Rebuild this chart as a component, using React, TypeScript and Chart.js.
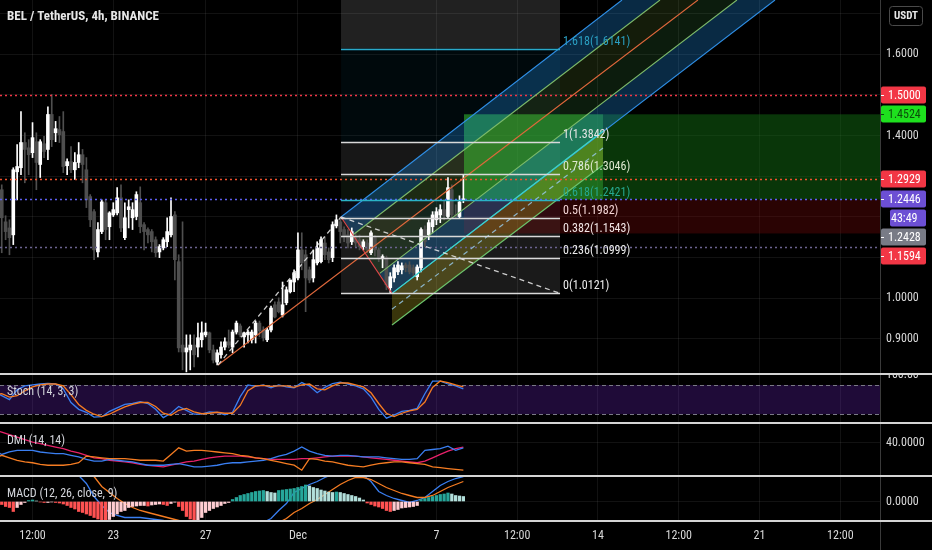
import { useEffect, useRef } from 'react';
import { Chart, registerables } from 'chart.js';

Chart.register(...registerables);

const FONT = '"Liberation Sans Narrow", "Arial Narrow", "Roboto Condensed", "DejaVu Sans Condensed", "Liberation Sans", sans-serif';

const TITLE = 'BEL / TetherUS, 4h, BINANCE';
const PANE_TITLES = ['Stoch (14, 3, 3)', 'DMI (14, 14)', 'MACD (12, 26, close, 9)'];

// time axis: days counted from Nov 0 (Dec 1 = 31)
const FIRST_CANDLE_DAY = 17 + 20 / 24;
const CANDLE_DAYS = 4 / 24;
const X_MIN = 18.091;
const X_MAX = 56.219;
const TIME_TICKS = [19.5, 23, 27, 31, 37, 40.5, 44, 47.5, 51, 54.5];
const TIME_LABELS = ['12:00', '23', '27', 'Dec', '7', '12:00', '14', '12:00', '21', '12:00'];

const PRICE_MIN = 0.8138;
const PRICE_MAX = 1.7335;
const PRICE_GRID = [0.9, 1.0, 1.1, 1.2, 1.3, 1.4, 1.5, 1.6, 1.7];
const PRICE_LABELED = [0.9, 1.0, 1.4, 1.6];

const OPEN = [1.250,1.205,1.267,1.188,1.173,1.156,1.311,1.321,1.383,1.370,
1.358,1.385,1.329,1.380,1.366,1.452,1.407,1.415,1.410,1.326,
1.336,1.316,1.334,1.353,1.316,1.250,1.213,1.114,1.164,1.235,
1.176,1.205,1.210,1.247,1.149,1.218,1.198,1.201,1.235,1.181,
1.169,1.164,1.144,1.114,1.124,1.139,1.156,1.205,1.090,0.885,
0.868,0.873,0.885,0.880,0.898,0.910,0.915,0.873,0.843,0.861,
0.880,0.893,0.880,0.917,0.932,0.905,0.910,0.898,0.910,0.939,
0.922,0.898,0.922,0.984,0.991,0.959,0.989,1.016,1.040,1.050,
1.119,1.107,1.070,1.050,1.087,1.090,1.136,1.114,1.100,1.178,
1.188,1.169,1.156,1.139,1.151,1.144,1.127,1.136,1.112,1.149,
1.119,1.100,1.100,1.026,1.050,1.065,1.070,1.082,1.082,1.075,
1.053,1.075,1.169,1.156,1.176,1.193,1.205,1.218,1.201,1.267,
1.205,1.201,1.240];
const HIGH = [1.299,1.311,1.279,1.203,1.193,1.321,1.378,1.459,1.407,1.390,
1.432,1.407,1.390,1.398,1.471,1.501,1.435,1.447,1.459,1.343,
1.373,1.358,1.383,1.366,1.346,1.255,1.218,1.186,1.242,1.242,
1.213,1.235,1.272,1.279,1.235,1.242,1.235,1.262,1.274,1.186,
1.173,1.169,1.151,1.132,1.149,1.198,1.247,1.213,1.107,1.188,
0.910,0.910,0.910,0.939,0.942,0.939,0.917,0.885,0.873,0.893,
0.903,0.922,0.922,0.944,0.937,0.917,0.922,0.922,0.944,0.944,
0.930,0.927,0.981,0.991,1.001,1.040,1.028,1.045,1.070,1.161,
1.161,1.119,1.077,1.119,1.139,1.151,1.151,1.124,1.188,1.205,
1.198,1.176,1.169,1.173,1.161,1.156,1.144,1.144,1.166,1.154,
1.124,1.107,1.104,1.063,1.082,1.090,1.087,1.087,1.090,1.082,
1.082,1.173,1.178,1.193,1.213,1.223,1.230,1.242,1.297,1.279,
1.230,1.252,1.304];
const LOW = [1.038,1.188,1.112,1.144,1.107,1.132,1.242,1.304,1.284,1.304,
1.346,1.267,1.297,1.346,1.341,1.373,1.385,1.383,1.309,1.304,
1.309,1.292,1.321,1.284,1.223,1.176,1.095,1.102,1.159,1.144,
1.144,1.201,1.205,1.164,1.144,1.173,1.169,1.193,1.161,1.119,
1.136,1.114,1.102,1.100,1.119,1.127,1.151,1.045,0.868,0.824,
0.819,0.824,0.831,0.856,0.880,0.905,0.866,0.841,0.836,0.853,
0.873,0.878,0.866,0.912,0.905,0.880,0.890,0.890,0.890,0.905,
0.895,0.893,0.917,0.952,0.964,0.954,0.984,1.013,1.016,1.045,
1.070,0.967,1.038,1.040,1.082,1.087,1.095,1.087,1.090,1.173,
1.136,1.139,1.124,1.132,1.127,1.119,1.119,1.112,1.107,1.104,
1.090,1.075,1.021,1.013,1.040,1.058,1.060,1.065,1.060,1.055,
1.045,1.065,1.127,1.144,1.161,1.181,1.186,1.193,1.196,1.198,
1.198,1.198,1.235];
const CLOSE = [1.230,1.272,1.198,1.164,1.149,1.316,1.324,1.383,1.366,1.353,
1.395,1.334,1.385,1.361,1.452,1.390,1.417,1.402,1.324,1.336,
1.316,1.334,1.353,1.329,1.242,1.193,1.119,1.169,1.237,1.169,
1.210,1.218,1.247,1.173,1.198,1.225,1.218,1.255,1.176,1.164,
1.156,1.139,1.112,1.127,1.144,1.164,1.201,1.095,0.878,0.868,
0.878,0.885,0.861,0.903,0.915,0.917,0.873,0.848,0.866,0.880,
0.893,0.885,0.917,0.939,0.910,0.915,0.917,0.917,0.939,0.920,
0.903,0.922,0.976,0.954,0.967,0.984,1.021,1.045,1.063,1.119,
1.087,1.050,1.045,1.095,1.124,1.144,1.107,1.095,1.181,1.193,
1.164,1.151,1.136,1.164,1.136,1.127,1.139,1.119,1.161,1.119,
1.100,1.102,1.033,1.053,1.075,1.082,1.080,1.075,1.065,1.063,
1.077,1.169,1.139,1.186,1.205,1.213,1.218,1.203,1.272,1.205,
1.201,1.237,1.2446];

// indicators sampled every 2 candles
const IND_EVERY = 2;
const STOCH_K = [66,58,50,70,78,80,82,83,82,72, 44,30,24,14,15,26,33,40,42,46,
  42,30,13,22,36,28,20,20,25,24, 19,24,56,80,77,80,74,80,76,74,
  85,78,64,75,83,86,82,78,72,55, 30,12,18,26,28,32,62,88,88,82, 78,72];
const STOCH_D = [60,62,55,58,68,76,80,82,82,78, 60,40,28,20,15,20,28,35,40,44,
  44,36,22,18,28,32,25,21,22,24, 22,22,38,68,78,79,77,78,78,75,
  80,82,72,70,78,84,84,80,76,64, 42,22,15,22,27,30,45,75,88,85, 80,76];
const DMI_PLUS = [31.5,26,29,31,31,31,29,28,27,27, 25,23,20,18,18,20,19,18,17,15,
  13,13,13,14,15,13,11,11,12,13, 15,16,16,17,18,19,21,24,26,30,
  35,30,27,25,24,25,25,24,23,23, 23,22,21,20,20,21,31,32,33,36, 31,34];
const DMI_MINUS = [21,25,22,19,17,16,14,13,13,13, 14,16,24,23,22,21,21,21,20,19,
  19,19,18,26,34,30,31,31,30,29, 28,27,25,24,22,21,19,17,15,13,
  7,21,20,18,17,15,13,12,11,13, 15,16,17,17,16,15,14,11,10,9, 8,7];
const ADX = [55.7,53,50,47,44,41,39,37,35,33, 30,28,25,22,21,19,18,17,16,14,
  13,12,11,13,15,17,18,20,22,23, 24,24,24,23,22,21,20,20,20,20,
  21,21,22,23,24,24,24,24,23,22, 21,20,19,18,17,16,18,22,26,30, 33,35];
// MACD values in thousandths
const MACD_LINE = [30,31,31,30,30,29,29,29,29,29, 28,26,18,5,-4,-11,-14,-16,-16,-16,
  -17,-18,-19,-21,-24,-27,-30,-32,-33,-33, -32,-30,-28,-26,-24,-21,-17,-9,-2,9,
  13,17,20,24,27,29,29,28,26,20, 10,6,3,1,-1,1,4,10,16,20, 23,25];
const MACD_SIGNAL = [30,30,30,30,30,30,30,30,30,30, 29,28,27,25,15,9,3,-2,-6,-9,
  -11,-13,-15,-17,-19,-21,-23,-25,-26,-27, -27,-27,-26,-25,-24,-23,-22,-21,-17,-11,
  -7,-2,2,7,12,17,21,24,24,22, 18,14,11,8,6,4,4,6,10,14, 17,20];
const MACD_HIST = [-1,-2,-3,-5,-6,-10,-6,-3,-1,1, 1.5,0.5,-0.5,-1,-1,-0.5,-1,-1.5,-2.5,-4,
  -6,-7.5,-10,-11,-12.5,-14,-16,-17.5,-18.5,-19, -18,-15,-12.5,-10,-9,-6,-5,-4.5,-4,-4,
  -4.5,-3.5,-3,-2.5,-3,-4,-2,-0.7,-5,-9, -15,-17.5,-19,-18.5,-16,-11,-9,-7,-5.5,-4,
  -2,-1,2,4,6,7,8,9,10,10.5, 11,10,9,8.5,11,11.5,12,12.5,13,14,
  15,16.5,15.5,14,13,11.5,10.5,9.5,9,9.5, 9,8,7,6,5,3.5,1.5,-1.5,-3,-4.5,
  -5.5,-7,-9,-10,-9,-8,-6.5,-6,-5.5,-5, -4,2,3,4,5,6,7,7.5,8.5,7.5, 6,5.5,5];

// Fibonacci retracement
const FIB_START = 32.866;
const FIB_END = 42.355;
const FIB_RATIOS = ['0', '0.236', '0.382', '0.5', '0.618', '0.786', '1', '1.618'];
const FIB_PRICES = [1.0121, 1.0999, 1.1543, 1.1982, 1.2421, 1.3046, 1.3842, 1.6141];
const FIB_TOP_PRICE = 1.9862;

// pitchfork: P1, P2, P3 and tines (start on P2-P3, end at top)
const PF_P1 = [27.536, 0.836];
const PF_STARTS = [[32.866, 1.200], [33.418, 1.1575], [33.97, 1.106], [34.542, 1.0612], [35.075, 1.0121]];
const PF_ENDS = [[45.04, 1.7335], [46.687, 1.7335], [48.33, 1.7335], [50.02, 1.7335], [51.67, 1.7335]];

// parallel channel
const CH_TOP = [35.075, 1.0121, 44.217, 1.4114];
const CH_BOTTOM = [35.075, 0.9343, 44.217, 1.3278];

// dashed trend lines
const DASHED = [[27.536, 0.836, 32.866, 1.200], [32.866, 1.200, 42.355, 1.0121]];

// long position
const LONG_FROM = 38.195;
const LONG_TO = 56.219;
const LONG_HIGHLIGHT_TO = 44.217;
const TARGET = 1.4524;
const ENTRY = 1.2428;
const STOP = 1.1594;

const H_LINES = [1.5, 1.2929, 1.2446, 1.1266];

const CURRENT = 1.2446;
const COUNTDOWN = '43:49';
const AXIS_LABEL_PRICES = [1.5, 1.4524, 1.2929, 1.2446, 1.2428, 1.1594];

// styles
const BG = '#000000';
const GRID = 'rgba(255,255,255,0.07)';
const TEXT = '#d8d8d8';
const UP = '#ffffff';
const DOWN = '#4f4f4f';
const BLUE = '#3a7ff2';
const ORANGE = '#f57c22';
const PINK = '#e8216a';
const FIB_LINE_COLORS = ['#d9d9d9', '#d9d9d9', '#d9d9d9', '#d9d9d9', '#2ab3c6', '#d9d9d9', '#d9d9d9', '#2aa9c9'];
const FIB_TEXT_COLORS = ['#ececec', '#ececec', '#f2e6e6', '#f4d6d6', '#26a88f', '#dfe9d0', '#e6e6e6', '#2a9fc2'];
const FIB_FILLS = ['rgba(255,255,255,0.10)', 'rgba(255,255,255,0.10)', 'rgba(255,255,255,0.10)', 'rgba(120,140,255,0.08)',
  'rgba(160,255,160,0.07)', 'rgba(255,255,255,0.09)', 'rgba(0,160,200,0.06)', 'rgba(255,255,255,0.13)'];
const PF_FILLS = ['rgba(33,150,243,0.28)', 'rgba(139,195,74,0.14)', 'rgba(76,175,80,0.16)', 'rgba(33,150,243,0.28)'];
const PF_LINE_COLORS = ['#2f8fe6', '#7dbb6a', '#e0683c', '#7dbb6a', '#2f8fe6'];
const H_LINE_COLORS = ['#f23645', '#f0522e', '#5d5fef', '#6b6390'];
const AXIS_LABEL_BG = ['#f23645', '#1ee01e', '#f23645', '#6c4fd4', '#787b86', '#f23645'];
const AXIS_LABEL_FG = ['#ffffff', '#0b4d0b', '#ffffff', '#ffffff', '#ffffff', '#ffffff'];
const LABEL_SIZE = 12;

const drawings = {
  id: 'tvDrawings',
  beforeDraw(chart: any) {
    const { ctx, width, height } = chart;
    ctx.save();
    ctx.fillStyle = BG;
    ctx.fillRect(0, 0, width, height);
    ctx.restore();
  },
  beforeDatasetsDraw(chart: any) {
    const { ctx, chartArea: a, scales } = chart;
    const xs = scales.x, ys = scales.y;
    const X = (d: number) => xs.getPixelForValue(d);
    const Y = (p: number) => ys.getPixelForValue(p);
    const poly = (pts: number[][], fill: string) => {
      ctx.beginPath();
      pts.forEach((p, i) => (i ? ctx.lineTo(X(p[0]), Y(p[1])) : ctx.moveTo(X(p[0]), Y(p[1]))));
      ctx.closePath();
      ctx.fillStyle = fill;
      ctx.fill();
    };
    ctx.save();
    ctx.beginPath();
    ctx.rect(a.left, ys.top, a.right - a.left, ys.bottom - ys.top);
    ctx.clip();
    for (let i = 0; i < FIB_PRICES.length; i++) {
      const p0 = FIB_PRICES[i];
      const p1 = i + 1 < FIB_PRICES.length ? FIB_PRICES[i + 1] : FIB_TOP_PRICE;
      ctx.fillStyle = FIB_FILLS[i];
      ctx.fillRect(X(FIB_START), Y(p1), X(FIB_END) - X(FIB_START), Y(p0) - Y(p1));
    }
    ctx.fillStyle = 'rgba(20,120,20,0.45)';
    ctx.fillRect(X(LONG_FROM), Y(TARGET), X(LONG_TO) - X(LONG_FROM), Y(ENTRY) - Y(TARGET));
    ctx.fillStyle = 'rgba(120,10,10,0.35)';
    ctx.fillRect(X(LONG_FROM), Y(ENTRY), X(LONG_TO) - X(LONG_FROM), Y(STOP) - Y(ENTRY));
    ctx.fillStyle = 'rgba(60,190,60,0.4)';
    ctx.fillRect(X(LONG_FROM), Y(TARGET), X(LONG_HIGHLIGHT_TO) - X(LONG_FROM), Y(ENTRY) - Y(TARGET));
    for (let i = 0; i < 4; i++) {
      poly([PF_STARTS[i], PF_ENDS[i], PF_ENDS[i + 1], PF_STARTS[i + 1]], PF_FILLS[i]);
    }
    poly([[CH_TOP[0], CH_TOP[1]], [CH_TOP[2], CH_TOP[3]], [CH_BOTTOM[2], CH_BOTTOM[3]], [CH_BOTTOM[0], CH_BOTTOM[1]]], 'rgba(205,190,40,0.28)');
    ctx.restore();
    const ss = scales.yS;
    const y80 = ss.getPixelForValue(80), y20 = ss.getPixelForValue(20);
    ctx.save();
    ctx.fillStyle = 'rgba(110,40,200,0.28)';
    ctx.fillRect(a.left, y80, a.right - a.left, y20 - y80);
    ctx.strokeStyle = '#7a7a86';
    ctx.lineWidth = 1;
    ctx.setLineDash([4, 3]);
    [y80, y20].forEach((y) => {
      ctx.beginPath();
      ctx.moveTo(a.left, Math.round(y) + 0.5);
      ctx.lineTo(a.right, Math.round(y) + 0.5);
      ctx.stroke();
    });
    ctx.restore();
  },
  afterDatasetsDraw(chart: any) {
    const { ctx, chartArea: a, scales } = chart;
    const xs = scales.x, ys = scales.y;
    const X = (d: number) => xs.getPixelForValue(d);
    const Y = (p: number) => ys.getPixelForValue(p);
    const seg = (x1: number, p1: number, x2: number, p2: number, color: string, width: number, dash: number[] = []) => {
      ctx.beginPath();
      ctx.setLineDash(dash);
      ctx.strokeStyle = color;
      ctx.lineWidth = width;
      ctx.moveTo(X(x1), Y(p1));
      ctx.lineTo(X(x2), Y(p2));
      ctx.stroke();
    };
    ctx.save();
    ctx.beginPath();
    ctx.rect(a.left, ys.top, a.right - a.left, ys.bottom - ys.top);
    ctx.clip();
    H_LINES.forEach((p, i) => {
      const y = Math.round(Y(p)) + 0.5;
      ctx.beginPath();
      ctx.setLineDash([2, 3]);
      ctx.strokeStyle = H_LINE_COLORS[i];
      ctx.lineWidth = 1.3;
      ctx.moveTo(a.left, y);
      ctx.lineTo(a.right, y);
      ctx.stroke();
    });
    for (let i = 0; i < 5; i++) {
      const s = i === 2 ? PF_P1 : PF_STARTS[i];
      seg(s[0], s[1], PF_ENDS[i][0], PF_ENDS[i][1], PF_LINE_COLORS[i], 1.1);
    }
    seg(PF_STARTS[0][0], PF_STARTS[0][1], PF_STARTS[4][0], PF_STARTS[4][1], '#e0484a', 1.1);
    seg(CH_TOP[0], CH_TOP[1], CH_TOP[2], CH_TOP[3], '#3ddbc4', 1.2);
    seg(CH_BOTTOM[0], CH_BOTTOM[1], CH_BOTTOM[2], CH_BOTTOM[3], '#6cc46c', 1.2);
    seg((CH_TOP[0] + CH_BOTTOM[0]) / 2, (CH_TOP[1] + CH_BOTTOM[1]) / 2, (CH_TOP[2] + CH_BOTTOM[2]) / 2, (CH_TOP[3] + CH_BOTTOM[3]) / 2, 'rgba(150,200,230,0.85)', 1.2, [5, 4]);
    DASHED.forEach((d) => seg(d[0], d[1], d[2], d[3], 'rgba(235,235,235,0.85)', 1.3, [5, 4]));
    ctx.setLineDash([]);
    ctx.font = `${LABEL_SIZE}px ${FONT}`;
    ctx.textBaseline = 'middle';
    ctx.textAlign = 'left';
    FIB_PRICES.forEach((p, i) => {
      const y = Math.round(Y(p)) + 0.5;
      ctx.beginPath();
      ctx.strokeStyle = FIB_LINE_COLORS[i];
      ctx.lineWidth = 1.5;
      ctx.moveTo(X(FIB_START), y);
      ctx.lineTo(X(FIB_END), y);
      ctx.stroke();
      ctx.fillStyle = FIB_TEXT_COLORS[i];
      ctx.fillText(`${FIB_RATIOS[i]}(${p.toFixed(4)})`, X(FIB_END) + 3, y - 8);
    });
    ctx.restore();
  },
  afterDraw(chart: any) {
    const { ctx, chartArea: a, scales, width, height } = chart;
    const ys = scales.y;
    ctx.save();
    ctx.fillStyle = BG;
    ctx.fillRect(a.right + 1, ys.bottom - 8, width - a.right, 8);
    ctx.strokeStyle = '#3a3a3a';
    ctx.lineWidth = 1;
    ctx.beginPath();
    ctx.moveTo(a.right + 0.5, 0);
    ctx.lineTo(a.right + 0.5, height);
    ctx.stroke();
    ctx.strokeStyle = '#d4d4d4';
    ctx.lineWidth = 2;
    [scales.y.bottom, scales.yS.bottom, scales.yD.bottom, scales.yM.bottom].forEach((y: number) => {
      ctx.beginPath();
      ctx.moveTo(0, Math.round(y));
      ctx.lineTo(width, Math.round(y));
      ctx.stroke();
    });
    const labels: any[] = AXIS_LABEL_PRICES.map((p, i) => ({ text: p.toFixed(4), y: ys.getPixelForValue(p), bg: AXIS_LABEL_BG[i], fg: AXIS_LABEL_FG[i], dx: 0 }));
    labels.push({ text: COUNTDOWN, y: ys.getPixelForValue(CURRENT) + 0.01, bg: AXIS_LABEL_BG[3], fg: '#ffffff', dx: 9 });
    labels.sort((p, q) => p.y - q.y);
    for (let i = 1; i < labels.length; i++) labels[i].y = Math.max(labels[i].y, labels[i - 1].y + 19);
    ctx.font = `${LABEL_SIZE}px ${FONT}`;
    ctx.textBaseline = 'middle';
    ctx.textAlign = 'left';
    labels.forEach((l) => {
      ctx.fillStyle = l.bg;
      ctx.beginPath();
      ctx.roundRect(a.right + 1 + l.dx, Math.round(l.y) - 8.5, 45 - l.dx, 17, 2);
      ctx.fill();
      if (!l.dx) {
        ctx.strokeStyle = l.fg;
        ctx.lineWidth = 1;
        ctx.beginPath();
        ctx.moveTo(a.right + 1, Math.round(l.y) + 0.5);
        ctx.lineTo(a.right + 4, Math.round(l.y) + 0.5);
        ctx.stroke();
      }
      ctx.fillStyle = l.fg;
      ctx.fillText(l.text, a.right + 8 + (l.dx ? 3 : 0), Math.round(l.y) + 0.5);
    });
    ctx.beginPath();
    ctx.roundRect(a.right + 9.5, 6.5, 33, 19, 3);
    ctx.fillStyle = BG;
    ctx.fill();
    ctx.strokeStyle = '#4a4a4a';
    ctx.stroke();
    ctx.fillStyle = '#e8e8e8';
    ctx.font = `bold 11px ${FONT}`;
    ctx.textAlign = 'center';
    ctx.fillText('USDT', a.right + 26, 16.5);
    ctx.textAlign = 'left';
    ctx.fillStyle = '#e6e6e6';
    ctx.font = `bold 13px ${FONT}`;
    ctx.fillText(TITLE, 7, 17);
    ctx.font = `${LABEL_SIZE}px ${FONT}`;
    ctx.fillStyle = '#d4d6dc';
    const paneScales = [scales.yS, scales.yD, scales.yM];
    paneScales.forEach((s: any, i: number) => ctx.fillText(PANE_TITLES[i], 7, s.top + 18));
    ctx.restore();
  },
};

const paneClip = {
  id: 'paneClip',
  beforeDatasetDraw(chart: any, args: any) {
    const s = chart.scales[args.meta.yAxisID];
    const a = chart.chartArea;
    chart.ctx.save();
    chart.ctx.beginPath();
    chart.ctx.rect(a.left, s.top, a.right - a.left, s.bottom - s.top);
    chart.ctx.clip();
  },
  afterDatasetDraw(chart: any) {
    chart.ctx.restore();
  },
};

const yAxis = (weight: number, min: number, max: number, ticks: number[], fmt: (v: number) => string, grid: boolean) => ({
  type: 'linear',
  position: 'right',
  stack: 'panes',
  stackWeight: weight,
  min,
  max,
  grid: { display: grid, color: GRID, drawTicks: false },
  border: { display: false },
  afterBuildTicks: (s: any) => { s.ticks = ticks.map((v) => ({ value: v })); },
  afterFit: (s: any) => { s.width = 52; s.paddingTop = 0; s.paddingBottom = 0; },
  ticks: { color: TEXT, padding: 6, font: { size: LABEL_SIZE, family: FONT }, callback: (v: number) => fmt(v) },
});

export default function App() {
  const ref = useRef<HTMLCanvasElement>(null);
  useEffect(() => {
    document.body.style.margin = '0';
    document.body.style.background = BG;
    Chart.defaults.font.family = FONT;
    const candleX = OPEN.map((_, i) => FIRST_CANDLE_DAY + i * CANDLE_DAYS);
    const indX = STOCH_K.map((_, j) => FIRST_CANDLE_DAY + j * IND_EVERY * CANDLE_DAYS);
    const candleColors = CLOSE.map((c, i) => (c >= OPEN[i] ? UP : DOWN));
    const histColors = MACD_HIST.map((v, i) => {
      const prev = i ? MACD_HIST[i - 1] : v;
      if (v >= 0) return v >= prev ? '#26a69a' : '#b2dfdb';
      return v < prev ? '#ff5252' : '#ffcdd2';
    });
    const line = (data: number[], color: string, axis: string) => ({
      type: 'line',
      data: data.map((y, j) => ({ x: indX[j], y })),
      borderColor: color,
      borderWidth: 1.3,
      pointRadius: 0,
      tension: 0,
      clip: 0,
      yAxisID: axis,
    });
    const bar = (data: any[], colors: string[], thick: number, axis: string, extra: any = {}) => ({
      type: 'bar',
      data,
      backgroundColor: colors,
      borderWidth: 0,
      grouped: false,
      barPercentage: 1,
      categoryPercentage: 1,
      maxBarThickness: thick,
      yAxisID: axis,
      ...extra,
    });
    const chart = new Chart(ref.current as HTMLCanvasElement, {
      type: 'bar',
      data: {
        datasets: [
          bar(candleX.map((x, i) => ({ x, y: [LOW[i], HIGH[i]] })), candleColors, 1, 'y'),
          bar(candleX.map((x, i) => ({ x, y: [OPEN[i], CLOSE[i]] })), candleColors, 3, 'y', { minBarLength: 1 }),
          line(STOCH_D, ORANGE, 'yS'),
          line(STOCH_K, BLUE, 'yS'),
          line(DMI_MINUS, ORANGE, 'yD'),
          line(DMI_PLUS, BLUE, 'yD'),
          line(ADX, PINK, 'yD'),
          bar(candleX.map((x, i) => ({ x, y: MACD_HIST[i] })), histColors, 2.6, 'yM'),
          line(MACD_SIGNAL, ORANGE, 'yM'),
          line(MACD_LINE, BLUE, 'yM'),
        ] as any,
      },
      options: {
        responsive: false,
        animation: false,
        devicePixelRatio: 1,
        events: [],
        layout: { padding: 0, autoPadding: false },
        plugins: { legend: { display: false }, tooltip: { enabled: false } },
        scales: {
          x: {
            type: 'linear',
            position: 'bottom',
            min: X_MIN,
            max: X_MAX,
            offset: false,
            grid: { color: GRID, drawTicks: false, offset: false },
            border: { display: false },
            afterBuildTicks: (s: any) => { s.ticks = TIME_TICKS.map((v) => ({ value: v })); },
            afterFit: (s: any) => { s.height = 29; s.paddingLeft = 0; s.paddingRight = 0; },
            ticks: {
              color: TEXT,
              padding: 8,
              maxRotation: 0,
              autoSkip: false,
              font: { size: LABEL_SIZE, family: FONT },
              callback: (v: number) => TIME_LABELS[TIME_TICKS.indexOf(v)] ?? '',
            },
          },
          y: yAxis(374, PRICE_MIN, PRICE_MAX, PRICE_GRID, (v) => (PRICE_LABELED.includes(v) ? v.toFixed(4) : ''), true),
          yS: yAxis(49, 2, 102.5, [100], (v) => v.toFixed(2), false),
          yD: yAxis(53, 0, 64, [40], (v) => v.toFixed(4), true),
          yM: yAxis(45, -19.5, 25.5, [0], (v) => (v / 1000).toFixed(4), true),
        } as any,
      },
      plugins: [drawings, paneClip],
    });
    return () => chart.destroy();
  }, []);
  return <canvas ref={ref} width={932} height={550} style={{ display: 'block' }} />;
}
